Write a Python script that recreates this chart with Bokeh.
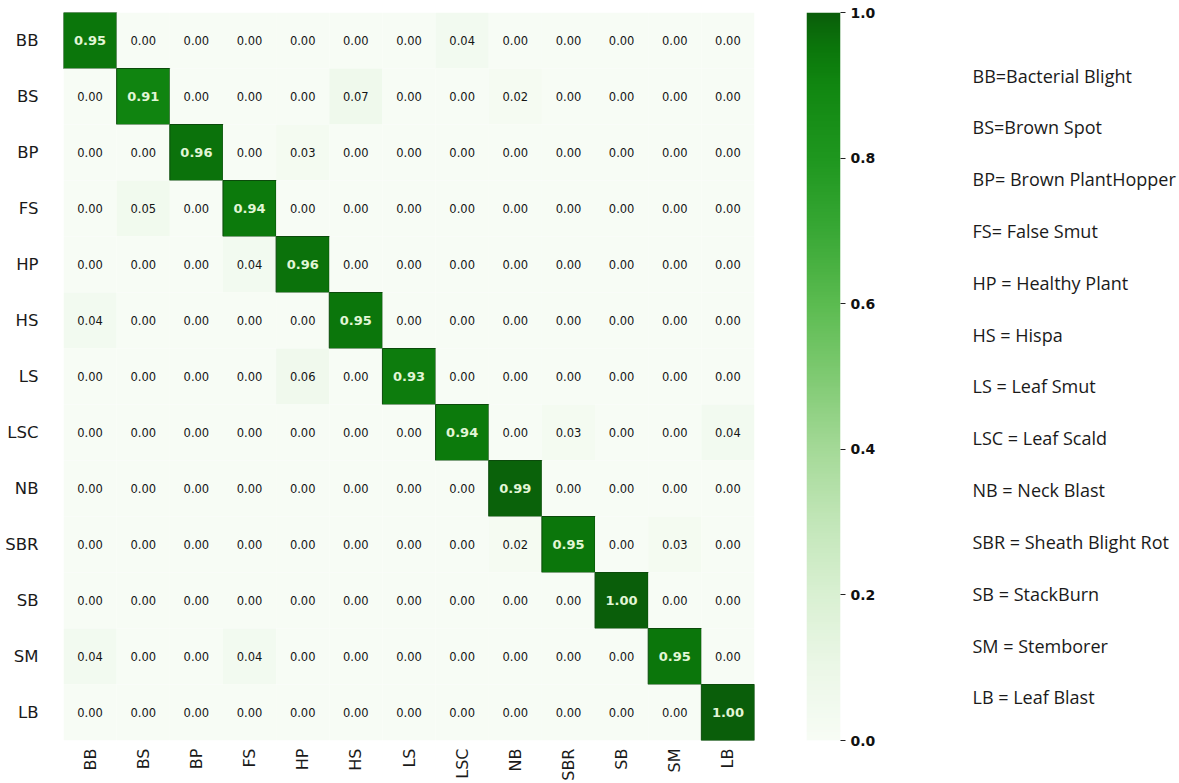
import math
import numpy as np
from bokeh.plotting import figure
from bokeh.layouts import row
from bokeh.models import (ColumnDataSource, FactorRange, Range1d, LinearColorMapper,
                          FixedTicker, PrintfTickFormatter)
from bokeh.transform import transform
from bokeh.core.properties import value
from bokeh.embed import file_html
from bokeh.resources import INLINE

# Class abbreviations (true label = row, predicted label = column)
classes = ["BB", "BS", "BP", "FS", "HP", "HS", "LS", "LSC", "NB", "SBR", "SB", "SM", "LB"]

legend_lines = [
    "BB=Bacterial Blight",
    "BS=Brown Spot",
    "BP= Brown PlantHopper",
    "FS= False Smut",
    "HP = Healthy Plant",
    "HS = Hispa",
    "LS = Leaf Smut",
    "LSC = Leaf Scald",
    "NB = Neck Blast",
    "SBR = Sheath Blight Rot",
    "SB = StackBurn",
    "SM = Stemborer",
    "LB = Leaf Blast",
]

# Normalised confusion-matrix rows
row_BB  = [0.95, 0.00, 0.00, 0.00, 0.00, 0.00, 0.00, 0.04, 0.00, 0.00, 0.00, 0.00, 0.00]
row_BS  = [0.00, 0.91, 0.00, 0.00, 0.00, 0.07, 0.00, 0.00, 0.02, 0.00, 0.00, 0.00, 0.00]
row_BP  = [0.00, 0.00, 0.96, 0.00, 0.03, 0.00, 0.00, 0.00, 0.00, 0.00, 0.00, 0.00, 0.00]
row_FS  = [0.00, 0.05, 0.00, 0.94, 0.00, 0.00, 0.00, 0.00, 0.00, 0.00, 0.00, 0.00, 0.00]
row_HP  = [0.00, 0.00, 0.00, 0.04, 0.96, 0.00, 0.00, 0.00, 0.00, 0.00, 0.00, 0.00, 0.00]
row_HS  = [0.04, 0.00, 0.00, 0.00, 0.00, 0.95, 0.00, 0.00, 0.00, 0.00, 0.00, 0.00, 0.00]
row_LS  = [0.00, 0.00, 0.00, 0.00, 0.06, 0.00, 0.93, 0.00, 0.00, 0.00, 0.00, 0.00, 0.00]
row_LSC = [0.00, 0.00, 0.00, 0.00, 0.00, 0.00, 0.00, 0.94, 0.00, 0.03, 0.00, 0.00, 0.04]
row_NB  = [0.00, 0.00, 0.00, 0.00, 0.00, 0.00, 0.00, 0.00, 0.99, 0.00, 0.00, 0.00, 0.00]
row_SBR = [0.00, 0.00, 0.00, 0.00, 0.00, 0.00, 0.00, 0.00, 0.02, 0.95, 0.00, 0.03, 0.00]
row_SB  = [0.00, 0.00, 0.00, 0.00, 0.00, 0.00, 0.00, 0.00, 0.00, 0.00, 1.00, 0.00, 0.00]
row_SM  = [0.04, 0.00, 0.00, 0.04, 0.00, 0.00, 0.00, 0.00, 0.00, 0.00, 0.00, 0.95, 0.00]
row_LB  = [0.00, 0.00, 0.00, 0.00, 0.00, 0.00, 0.00, 0.00, 0.00, 0.00, 0.00, 0.00, 1.00]

matrix = [row_BB, row_BS, row_BP, row_FS, row_HP, row_HS, row_LS,
          row_LSC, row_NB, row_SBR, row_SB, row_SM, row_LB]

cbar_ticks = [0.0, 0.2, 0.4, 0.6, 0.8, 1.0]

# White-to-green colour scale
stop_pos = [0.0, 0.1, 0.2, 0.3, 0.4, 0.5, 0.6, 0.7, 0.8, 0.9, 0.95, 1.0]
stop_col = ["#f7fcf5", "#ebf7e7", "#d9f0d2", "#c2e6b8", "#a4d997", "#7fca72",
            "#5bbb50", "#39a835", "#1f971f", "#118711", "#0b770b", "#0a5e0a"]


def _rgb(h):
    return [int(h[i:i + 2], 16) for i in (1, 3, 5)]


stops_rgb = np.array([_rgb(c) for c in stop_col], dtype=float)
grid = np.linspace(0, 1, 256)
palette = []
for t in grid:
    r = np.interp(t, stop_pos, stops_rgb[:, 0])
    g = np.interp(t, stop_pos, stops_rgb[:, 1])
    b = np.interp(t, stop_pos, stops_rgb[:, 2])
    palette.append("#%02x%02x%02x" % (int(round(r)), int(round(g)), int(round(b))))

mapper = LinearColorMapper(palette=palette, low=0, high=1)

# Long-form table of cells
true_lab, pred_lab, vals, txt, edge = [], [], [], [], []
for i, t in enumerate(classes):
    for j, pcls in enumerate(classes):
        v = matrix[i][j]
        true_lab.append(t)
        pred_lab.append(pcls)
        vals.append(v)
        txt.append("%.2f" % v)
        edge.append("#0b4a0b" if v >= 0.5 else None)

src = ColumnDataSource(dict(true=true_lab, pred=pred_lab, value=vals, label=txt, edge=edge))
hi = [n for n, v in enumerate(vals) if v >= 0.5]
lo = [n for n, v in enumerate(vals) if v < 0.5]
src_hi = ColumnDataSource({key: [src.data[key][n] for n in hi] for key in src.data})
src_lo = ColumnDataSource({key: [src.data[key][n] for n in lo] for key in src.data})

BORDER_TOP, BORDER_BOTTOM = 12, 43

# Heatmap
p = figure(width=790, height=783,
           x_range=FactorRange(*classes), y_range=FactorRange(*classes[::-1]),
           output_backend="svg", toolbar_location=None,
           min_border_left=63, min_border_right=36,
           min_border_top=BORDER_TOP, min_border_bottom=BORDER_BOTTOM)
p.rect(x="pred", y="true", width=1, height=1, source=src,
       fill_color=transform("value", mapper), line_color="edge", line_width=1)
p.text(x="pred", y="true", text="label", source=src_lo,
       text_align="center", text_baseline="middle",
       text_font=value("DejaVu Sans"), text_font_size="11.5px", text_color="#151515")
p.text(x="pred", y="true", text="label", source=src_hi,
       text_align="center", text_baseline="middle",
       text_font=value("DejaVu Sans"), text_font_size="13px",
       text_font_style="bold", text_color="#e2f6d6")

p.grid.grid_line_color = None
p.outline_line_color = None
p.axis.axis_line_color = None
p.axis.major_tick_line_color = None
p.axis.major_tick_out = 0
p.axis.major_tick_in = 0
p.axis.major_label_text_font = "DejaVu Sans"
p.axis.major_label_text_color = "#1a1a1a"
p.xaxis.major_label_orientation = math.pi / 2
p.xaxis.major_label_text_font_size = "16px"
p.xaxis.major_label_standoff = 8
p.yaxis.major_label_text_font_size = "16.5px"
p.yaxis.major_label_standoff = 25

# Colour bar
grad = np.linspace(0, 1, 256).reshape(256, 1)
c = figure(width=120, height=783, x_range=Range1d(0, 1), y_range=Range1d(0, 1),
           output_backend="svg", toolbar_location=None,
           x_axis_location=None, y_axis_location="right",
           min_border_left=16, min_border_right=70,
           min_border_top=BORDER_TOP, min_border_bottom=BORDER_BOTTOM)
c.image(image=[grad], x=0, y=0, dw=1, dh=1, color_mapper=mapper)
c.grid.grid_line_color = None
c.outline_line_color = None
c.yaxis.ticker = FixedTicker(ticks=cbar_ticks)
c.yaxis.formatter = PrintfTickFormatter(format="%.1f")
c.yaxis.axis_line_color = None
c.yaxis.major_tick_in = 0
c.yaxis.major_tick_out = 5
c.yaxis.major_tick_line_color = "#222222"
c.yaxis.minor_tick_line_color = None
c.yaxis.major_label_standoff = 5
c.yaxis.major_label_text_font = "DejaVu Sans"
c.yaxis.major_label_text_font_style = "bold"
c.yaxis.major_label_text_font_size = "14px"
c.yaxis.major_label_text_color = "#111111"

# Abbreviation key: one line per class, listed top to bottom
key_idx = list(range(len(classes)))
k = figure(width=269, height=783, x_range=Range1d(0, 1),
           y_range=Range1d(12.83, -1.2155),
           output_backend="svg", toolbar_location=None,
           x_axis_location=None, y_axis_location=None,
           min_border_left=62, min_border_right=0,
           min_border_top=BORDER_TOP, min_border_bottom=BORDER_BOTTOM)
k.text(x=[0] * len(classes), y=key_idx, text=legend_lines,
       text_align="left", text_baseline="middle",
       text_font=value("Open Sans"), text_font_size="18px", text_color="#1a1a1a")
k.grid.grid_line_color = None
k.outline_line_color = None

layout = row(p, c, k)
open("out.html", "w").write(file_html(layout, INLINE))
